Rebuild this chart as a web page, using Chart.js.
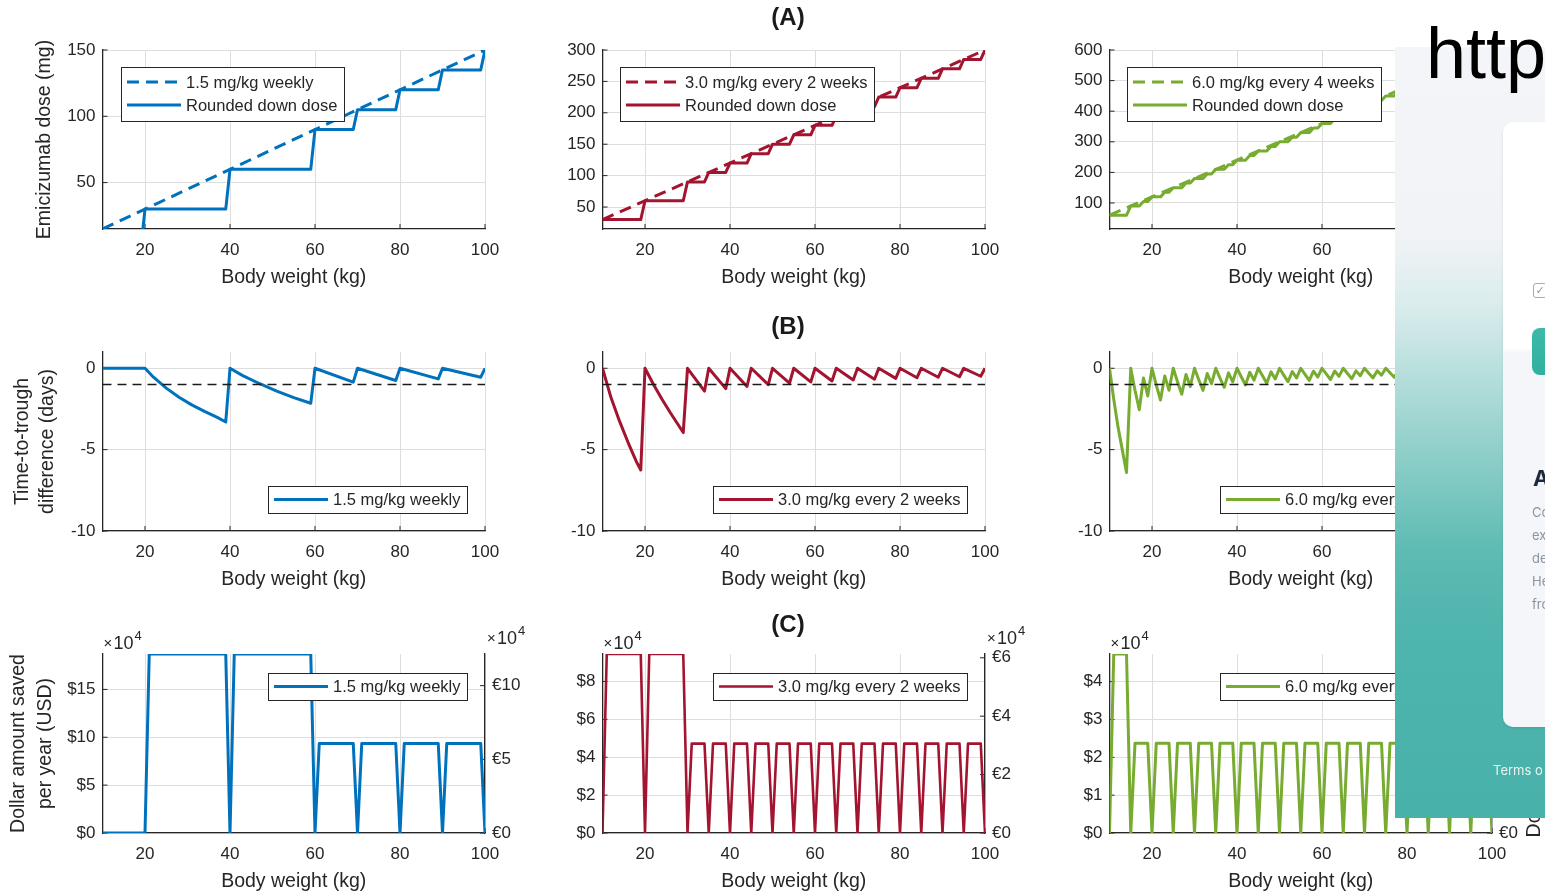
<!DOCTYPE html>
<html>
<head>
<meta charset="utf-8">
<script src="https://cdn.jsdelivr.net/npm/chart.js@4.4.1/dist/chart.umd.min.js"></script>
<style>
  html, body { margin: 0; padding: 0; background: #fff; width: 1545px; height: 895px; overflow: hidden; }
  #stage { position: relative; width: 1545px; height: 895px; overflow: hidden; font-family: 'Liberation Sans', Arial, Helvetica, sans-serif; }
  canvas { position: absolute; }
  .ptitle { position: absolute; left: 738px; width: 100px; text-align: center; font-weight: bold; font-size: 24px; line-height: 28px; color: #1a1a1a; }
  #rlabel { position: absolute; left: 1426.5px; top: 721px; width: 240px; height: 54px; font-size: 19.5px; line-height: 27px; text-align: center; color: #262626; transform: rotate(-90deg); white-space: nowrap; }
  #overlay { position: absolute; left: 1395px; top: 47px; width: 150px; height: 771px; overflow: hidden;
    background: linear-gradient(to bottom, #f4f5f9 0px, #f1f3f6 190px, #d9ecec 260px, #b5dedb 330px, #88ccc6 420px, #5fbcb4 500px, #4fb5ad 580px, #48b1a9 771px); }
  #card { position: absolute; left: 108px; top: 75px; width: 90px; height: 605px; border-radius: 10px;
    background: linear-gradient(to bottom, #ffffff 0px, #ffffff 226px, #f4f6f9 230px, #f4f6f9 605px); box-shadow: 0 1px 3px rgba(0,0,0,0.10); }
  #chk { position: absolute; left: 30px; top: 161px; width: 12px; height: 13px; border: 1.5px solid #a3acb6; border-radius: 3px; color: #8a959f; font-size: 11px; line-height: 13px; text-align: center; font-family: 'DejaVu Sans', sans-serif; }
  #btn { position: absolute; left: 29px; top: 206px; width: 70px; height: 47px; border-radius: 8px; background: linear-gradient(to bottom, #3cbaa9, #30b09f); }
  #cardA { position: absolute; left: 30px; top: 343px; font-family: Inter, 'Liberation Sans', sans-serif; font-weight: bold; font-size: 22px; line-height: 26px; color: #1e293b; }
  .cl { position: absolute; left: 29px; font-family: Inter, 'Liberation Sans', sans-serif; font-size: 13px; line-height: 16px; color: #8a94a3; }
  #terms { position: absolute; left: 98px; top: 715px; font-family: Inter, 'Liberation Sans', sans-serif; font-size: 13px; line-height: 16px; color: #e8f5f3; white-space: nowrap; }
  #http { position: absolute; left: 1426px; top: 17px; font-family: 'Liberation Sans', Arial, sans-serif; font-size: 72px; line-height: 72px; color: #000; white-space: nowrap; }
</style>
</head>
<body>
<div id="stage">
  <canvas id="cA1"></canvas><canvas id="cA2"></canvas><canvas id="cA3"></canvas>
  <canvas id="cB1"></canvas><canvas id="cB2"></canvas><canvas id="cB3"></canvas>
  <canvas id="cC1"></canvas><canvas id="cC2"></canvas><canvas id="cC3"></canvas>
  <div class="ptitle" style="top:3px">(A)</div>
  <div class="ptitle" style="top:312px">(B)</div>
  <div class="ptitle" style="top:610px">(C)</div>
  <div id="rlabel">Dollar amount saved<br>per year (EUR)</div>
  <div id="overlay">
    <div id="card">
      <div id="chk">✓</div>
      <div id="btn"></div>
      <div id="cardA">A</div>
      <div class="cl" style="top:382px">Co</div>
      <div class="cl" style="top:405px">ex</div>
      <div class="cl" style="top:428px">de</div>
      <div class="cl" style="top:451px">He</div>
      <div class="cl" style="top:474px">fro</div>
    </div>
    <div id="terms">Terms o</div>
  </div>
  <div id="http">http</div>
</div>
<script>
// ---------------- DATA ----------------
const weightKg = [10,11,12,13,14,15,16,17,18,19,20,21,22,23,24,25,26,27,28,29,30,31,32,33,34,35,36,37,38,39,40,41,42,43,44,45,46,47,48,49,50,51,52,53,54,55,56,57,58,59,60,61,62,63,64,65,66,67,68,69,70,71,72,73,74,75,76,77,78,79,80,81,82,83,84,85,86,87,88,89,90,91,92,93,94,95,96,97,98,99,100];
const weightTicks = [20, 40, 60, 80, 100];

const regimenNames = ['1.5 mg/kg weekly', '3.0 mg/kg every 2 weeks', '6.0 mg/kg every 4 weeks'];
const roundedName = 'Rounded down dose';

// (A) dose (mg)
const a1PrescribedW = [10, 100];
const a1PrescribedDose = [15, 150];
const a1RoundedW = [10, 19, 20, 39, 40, 59, 60, 69, 70, 79, 80, 89, 90, 99, 100];
const a1RoundedDose = [0, 0, 30, 30, 60, 60, 90, 90, 105, 105, 120, 120, 135, 135, 150];

const a2PrescribedW = [10, 100];
const a2PrescribedDose = [30, 300];
const a2RoundedW = [10, 19, 20, 29, 30, 34, 35, 39, 40, 44, 45, 49, 50, 54, 55, 59, 60, 64, 65, 69, 70, 74, 75, 79, 80, 84, 85, 89, 90, 94, 95, 99, 100];
const a2RoundedDose = [30, 30, 60, 60, 90, 90, 105, 105, 120, 120, 135, 135, 150, 150, 165, 165, 180, 180, 195, 195, 210, 210, 225, 225, 240, 240, 255, 255, 270, 270, 285, 285, 300];

const a3PrescribedW = [10, 100];
const a3PrescribedDose = [60, 600];
const a3RoundedDose = [60,60,60,60,60, 90,90,90,105,105, 120,120,120,135,135, 150,150,150,165,165, 180,180,180,195,195, 210,210,210,225,225, 240,240,240,255,255, 270,270,270,285,285, 300,300,300,315,315, 330,330,330,345,345, 360,360,360,375,375, 390,390,390,405,405, 420,420,420,435,435, 450,450,450,465,465, 480,480,480,495,495, 510,510,510,525,525, 540,540,540,555,555, 570,570,570,585,585, 600];

const doseTicksA1 = [50, 100, 150];
const doseTicksA2 = [50, 100, 150, 200, 250, 300];
const doseTicksA3 = [100, 200, 300, 400, 500, 600];

// (B) time-to-trough difference (days)
const thresholdW = [10, 100];
const thresholdDays = [-1, -1];
const b1W = [10, 20, 22, 25, 28, 31, 34, 37, 39, 40, 43, 47, 51, 55, 59, 60, 69, 70, 79, 80, 89, 90, 99, 100];
const b1Days = [0, 0, -0.55, -1.22, -1.78, -2.25, -2.65, -3.02, -3.3, 0, -0.45, -0.95, -1.4, -1.8, -2.15, 0, -0.85, 0, -0.75, 0, -0.65, 0, -0.55, 0];
const b2W = [10, 12, 14, 16, 18, 19, 20, 22, 24, 26, 28, 29, 30, 34, 35, 39, 40, 44, 45, 49, 50, 54, 55, 59, 60, 64, 65, 69, 70, 74, 75, 79, 80, 84, 85, 89, 90, 94, 95, 99, 100];
const b2Days = [0, -1.8, -3.25, -4.55, -5.75, -6.25, 0, -1.0, -1.9, -2.75, -3.55, -3.95, 0, -1.4, 0, -1.25, 0, -1.12, 0, -1.0, 0, -0.92, 0, -0.84, 0, -0.78, 0, -0.72, 0, -0.67, 0, -0.62, 0, -0.58, 0, -0.55, 0, -0.52, 0, -0.49, 0];
const b3Days = [0,-1.9,-3.6,-5.0,-6.4, 0,-1.35,-2.55,-0.6,-1.7, 0,-1.03,-1.95,-0.47,-1.35, 0,-0.83,-1.6,-0.38,-1.12, 0,-0.7,-1.36,-0.32,-0.95, 0,-0.6,-1.17,-0.28,-0.83, 0,-0.52,-1.03,-0.25,-0.73, 0,-0.46,-0.92,-0.22,-0.66, 0,-0.42,-0.83,-0.2,-0.6, 0,-0.38,-0.75,-0.18,-0.54, 0,-0.35,-0.69,-0.17,-0.5, 0,-0.32,-0.64,-0.16,-0.46, 0,-0.3,-0.59,-0.15,-0.43, 0,-0.28,-0.55,-0.13,-0.4, 0,-0.26,-0.52,-0.13,-0.38, 0,-0.25,-0.49,-0.12,-0.36, 0,-0.23,-0.46,-0.11,-0.34, 0,-0.22,-0.44,-0.11,-0.32, 0];
const troughTicks = [-10, -5, 0];

// (C) amount saved per year (x 10^4)
const c1W = [10, 20, 21, 39, 40, 41, 59, 60, 61, 69, 70, 71, 79, 80, 81, 89, 90, 91, 99, 100];
const c1Usd = [0, 0, 18.7, 18.7, 0, 18.7, 18.7, 0, 9.35, 9.35, 0, 9.35, 9.35, 0, 9.35, 9.35, 0, 9.35, 9.35, 0];
const c2W = [10, 11, 19, 20, 21, 29, 30, 31, 34, 35, 36, 39, 40, 41, 44, 45, 46, 49, 50, 51, 54, 55, 56, 59, 60, 61, 64, 65, 66, 69, 70, 71, 74, 75, 76, 79, 80, 81, 84, 85, 86, 89, 90, 91, 94, 95, 96, 99, 100];
const c2Usd = [0, 9.45, 9.45, 0, 9.45, 9.45, 0, 4.72, 4.72, 0, 4.72, 4.72, 0, 4.72, 4.72, 0, 4.72, 4.72, 0, 4.72, 4.72, 0, 4.72, 4.72, 0, 4.72, 4.72, 0, 4.72, 4.72, 0, 4.72, 4.72, 0, 4.72, 4.72, 0, 4.72, 4.72, 0, 4.72, 4.72, 0, 4.72, 4.72, 0, 4.72, 4.72, 0];
const c3W = [10, 11, 14, 15, 16, 19, 20, 21, 24, 25, 26, 29, 30, 31, 34, 35, 36, 39, 40, 41, 44, 45, 46, 49, 50, 51, 54, 55, 56, 59, 60, 61, 64, 65, 66, 69, 70, 71, 74, 75, 76, 79, 80, 81, 84, 85, 86, 89, 90, 91, 94, 95, 96, 99, 100];
const c3Usd = [0, 4.73, 4.73, 0, 2.37, 2.37, 0, 2.37, 2.37, 0, 2.37, 2.37, 0, 2.37, 2.37, 0, 2.37, 2.37, 0, 2.37, 2.37, 0, 2.37, 2.37, 0, 2.37, 2.37, 0, 2.37, 2.37, 0, 2.37, 2.37, 0, 2.37, 2.37, 0, 2.37, 2.37, 0, 2.37, 2.37, 0, 2.37, 2.37, 0, 2.37, 2.37, 0, 2.37, 2.37, 0, 2.37, 2.37, 0];
const usdMax = [18.7, 9.45, 4.73];
const eurMax = [12.15, 6.13, 3.07];
const usdTicksC1 = [0, 5, 10, 15];   const usdLabelsC1 = ['$0', '$5', '$10', '$15'];
const eurTicksC1 = [0, 5, 10];       const eurLabelsC1 = ['€0', '€5', '€10'];
const usdTicksC2 = [0, 2, 4, 6, 8];  const usdLabelsC2 = ['$0', '$2', '$4', '$6', '$8'];
const eurTicksC2 = [0, 2, 4, 6];     const eurLabelsC2 = ['€0', '€2', '€4', '€6'];
const usdTicksC3 = [0, 1, 2, 3, 4];  const usdLabelsC3 = ['$0', '$1', '$2', '$3', '$4'];
const eurTicksC3 = [0, 1, 2, 3];     const eurLabelsC3 = ['€0', '€1', '€2', '€3'];

// ---------------- STYLE / HELPERS ----------------
const FONT = "'Liberation Sans', Arial, Helvetica, sans-serif";
const AX = '#262626';
const GRID = '#dedede';
const BLUE = '#0072BD', RED = '#A2142F', GREEN = '#77AC30';
Chart.defaults.font.family = FONT;

const pts = (xs, ys) => xs.map((x, i) => ({ x: x, y: ys[i] }));
const fixedTicks = (vals) => (scale) => { scale.ticks = vals.map(v => ({ value: v })); };
const labelFor = (vals, labels) => (v) => labels[vals.indexOf(v)];

const line = (label, xs, ys, color, extra) => Object.assign({
  label: label, data: pts(xs, ys), borderColor: color, backgroundColor: color, borderWidth: 3,
  pointRadius: 0, pointHoverRadius: 0, tension: 0, fill: false,
  borderJoinStyle: 'round', borderCapStyle: 'butt', yAxisID: 'y'
}, extra || {});
const threshold = () => line('threshold', thresholdW, thresholdDays, '#1a1a1a', { borderWidth: 1.5, borderDash: [9, 6] });

const innerTicks = {
  id: 'innerTicks',
  beforeDatasetsDraw(chart) {
    const { ctx, chartArea: ca, scales } = chart;
    ctx.save(); ctx.strokeStyle = AX; ctx.lineWidth = 1; ctx.beginPath();
    scales.x.ticks.forEach(t => { const p = scales.x.getPixelForValue(t.value); ctx.moveTo(p, ca.bottom); ctx.lineTo(p, ca.bottom - 5); });
    scales.y.ticks.forEach(t => { const p = scales.y.getPixelForValue(t.value); ctx.moveTo(ca.left, p); ctx.lineTo(ca.left + 5, p); });
    if (scales.y2) scales.y2.ticks.forEach(t => { const p = scales.y2.getPixelForValue(t.value); ctx.moveTo(ca.right, p); ctx.lineTo(ca.right - 5, p); });
    ctx.stroke(); ctx.restore();
  }
};

const boxLegend = {
  id: 'boxLegend',
  afterDatasetsDraw(chart, args, opts) {
    if (!opts || !opts.items) return;
    const { ctx, chartArea: ca } = chart;
    ctx.save();
    ctx.font = '16.5px ' + FONT;
    const texts = opts.items.map(i => chart.data.datasets[i].label);
    const tw = Math.max.apply(null, texts.map(t => ctx.measureText(t).width));
    const w = Math.round(65 + tw + 7);
    const h = opts.items.length === 2 ? 54 : 27;
    const x = Math.round(opts.align === 'left' ? ca.left + opts.margin : ca.right - opts.margin - w);
    const y = Math.round(ca.top + opts.dy);
    ctx.fillStyle = '#fff'; ctx.fillRect(x, y, w, h);
    ctx.strokeStyle = '#262626'; ctx.lineWidth = 1; ctx.strokeRect(x + 0.5, y + 0.5, w, h);
    opts.items.forEach((di, k) => {
      const ds = chart.data.datasets[di];
      const cy = h === 54 ? y + 15 + 23 * k : y + h / 2;
      ctx.beginPath(); ctx.setLineDash(ds.borderDash || []);
      ctx.strokeStyle = ds.borderColor; ctx.lineWidth = ds.borderWidth;
      ctx.moveTo(x + 6, cy); ctx.lineTo(x + 60, cy); ctx.stroke();
      ctx.setLineDash([]);
      ctx.fillStyle = '#262626'; ctx.textBaseline = 'middle'; ctx.textAlign = 'left';
      ctx.fillText(texts[k], x + 65, cy + 1);
    });
    ctx.restore();
  }
};

const expLabels = {
  id: 'expLabels',
  afterDraw(chart, args, opts) {
    if (!opts || (!opts.left && !opts.right)) return;
    const { ctx, chartArea: ca } = chart;
    const draw = (x, y) => {
      ctx.fillStyle = AX; ctx.textBaseline = 'middle'; ctx.textAlign = 'left';
      ctx.font = '15px ' + FONT; ctx.fillText('×', x, y);
      ctx.font = '18px ' + FONT; ctx.fillText('10', x + 10, y);
      const w = ctx.measureText('10').width;
      ctx.font = '13px ' + FONT; ctx.fillText('4', x + 11 + w, y - 8);
    };
    ctx.save();
    if (opts.left) draw(ca.left + 1, ca.top - 10);
    if (opts.right) draw(ca.right + 2, ca.top - 15);
    ctx.restore();
  }
};
Chart.register(innerTicks, boxLegend, expLabels);

// ---------------- LAYOUT ----------------
const COLS = [{ left: 0, L: 102.5, w: 545 }, { left: 502, L: 100.5, w: 543 }, { left: 1009, L: 100.5, w: 543 }];
const ROWS = [20, 322, 624];
const CH = 269, PAD_T = 30, XH = 60, RW = 60;

function makeChart(id, col, row, spec) {
  const cv = document.getElementById(id);
  const g = COLS[col];
  cv.width = g.w; cv.height = CH;
  cv.style.left = g.left + 'px'; cv.style.top = ROWS[row] + 'px';
  const tickFont = { family: FONT, size: 17 };
  const yTicks = { font: tickFont, color: AX, padding: 7 };
  if (spec.yLabels) yTicks.callback = labelFor(spec.yTicks, spec.yLabels);
  const scales = {
    x: {
      type: 'linear', min: 10, max: 100,
      afterBuildTicks: fixedTicks(weightTicks),
      afterFit: (s) => { s.height = XH; },
      grid: { color: GRID, lineWidth: 1, drawTicks: false },
      border: { display: true, color: AX, width: 1.3 },
      ticks: { font: tickFont, color: AX, padding: 11, maxRotation: 0, minRotation: 0, autoSkip: false },
      title: { display: true, text: 'Body weight (kg)', font: { family: FONT, size: 19.5 }, color: AX, padding: { top: 0, bottom: 0 } }
    },
    y: {
      type: 'linear', min: spec.yMin, max: spec.yMax,
      afterBuildTicks: fixedTicks(spec.yTicks),
      afterFit: (s) => { s.width = g.L; },
      grid: { color: GRID, lineWidth: 1, drawTicks: false },
      border: { display: true, color: AX, width: 1.3 },
      ticks: yTicks,
      title: spec.yTitle
        ? { display: true, text: spec.yTitle, font: { family: FONT, size: 19.5, lineHeight: spec.yTitleLH }, color: AX, padding: { top: spec.yTitlePad, bottom: 0 } }
        : { display: false }
    }
  };
  if (spec.y2) {
    scales.y2 = {
      type: 'linear', position: 'right', min: 0, max: spec.y2.max,
      afterBuildTicks: fixedTicks(spec.y2.ticks),
      afterFit: (s) => { s.width = RW; },
      grid: { drawOnChartArea: false, drawTicks: false },
      border: { display: true, color: AX, width: 1.3 },
      ticks: { font: tickFont, color: AX, padding: 7, callback: labelFor(spec.y2.ticks, spec.y2.labels) }
    };
  }
  return new Chart(cv, {
    type: 'line',
    data: { datasets: spec.datasets },
    options: {
      responsive: false, animation: false, devicePixelRatio: 1, events: [],
      layout: { padding: { top: PAD_T, right: spec.y2 ? 0 : RW, bottom: 0, left: 0 } },
      scales: scales,
      plugins: { legend: { display: false }, tooltip: { enabled: false }, boxLegend: spec.legend, expLabels: spec.exp || {} }
    }
  });
}

const dash = { borderDash: [12, 7] };
const legA = (m) => ({ align: 'left', margin: m, dy: 17, items: [0, 1] });

// Row A
makeChart('cA1', 0, 0, {
  datasets: [line(regimenNames[0], a1PrescribedW, a1PrescribedDose, BLUE, dash), line(roundedName, a1RoundedW, a1RoundedDose, BLUE)],
  yMin: 15, yMax: 150, yTicks: doseTicksA1,
  yTitle: 'Emicizumab dose (mg)', yTitlePad: 32.8, yTitleLH: 1.25, legend: legA(18.5)
});
makeChart('cA2', 1, 0, {
  datasets: [line(regimenNames[1], a2PrescribedW, a2PrescribedDose, RED, dash), line(roundedName, a2RoundedW, a2RoundedDose, RED)],
  yMin: 15, yMax: 300, yTicks: doseTicksA2, legend: legA(17.5)
});
makeChart('cA3', 2, 0, {
  datasets: [line(regimenNames[2], a3PrescribedW, a3PrescribedDose, GREEN, dash), line(roundedName, weightKg, a3RoundedDose, GREEN)],
  yMin: 15, yMax: 600, yTicks: doseTicksA3, legend: legA(17.5)
});

// Row B
const legB = { align: 'right', margin: 18, dy: 134, items: [1] };
makeChart('cB1', 0, 1, {
  datasets: [threshold(), line(regimenNames[0], b1W, b1Days, BLUE)],
  yMin: -10, yMax: 1, yTicks: troughTicks,
  yTitle: ['Time-to-trough', 'difference (days)'], yTitlePad: 10.8, yTitleLH: 1.25, legend: legB
});
makeChart('cB2', 1, 1, {
  datasets: [threshold(), line(regimenNames[1], b2W, b2Days, RED)],
  yMin: -10, yMax: 1, yTicks: troughTicks, legend: legB
});
makeChart('cB3', 2, 1, {
  datasets: [threshold(), line(regimenNames[2], weightKg, b3Days, GREEN)],
  yMin: -10, yMax: 1, yTicks: troughTicks, legend: legB
});

// Row C
const legC = { align: 'right', margin: 18, dy: 19, items: [0] };
makeChart('cC1', 0, 2, {
  datasets: [line(regimenNames[0], c1W, c1Usd, BLUE)],
  yMin: 0, yMax: usdMax[0], yTicks: usdTicksC1, yLabels: usdLabelsC1,
  y2: { max: eurMax[0], ticks: eurTicksC1, labels: eurLabelsC1 },
  yTitle: ['Dollar amount saved', 'per year (USD)'], yTitlePad: 5.8, yTitleLH: 1.35,
  legend: legC, exp: { left: true, right: true }
});
makeChart('cC2', 1, 2, {
  datasets: [line(regimenNames[1], c2W, c2Usd, RED, { borderWidth: 2.6 })],
  yMin: 0, yMax: usdMax[1], yTicks: usdTicksC2, yLabels: usdLabelsC2,
  y2: { max: eurMax[1], ticks: eurTicksC2, labels: eurLabelsC2 },
  legend: legC, exp: { left: true, right: true }
});
makeChart('cC3', 2, 2, {
  datasets: [line(regimenNames[2], c3W, c3Usd, GREEN)],
  yMin: 0, yMax: usdMax[2], yTicks: usdTicksC3, yLabels: usdLabelsC3,
  y2: { max: eurMax[2], ticks: eurTicksC3, labels: eurLabelsC3 },
  legend: legC, exp: { left: true, right: true }
});
</script>
</body>
</html>
